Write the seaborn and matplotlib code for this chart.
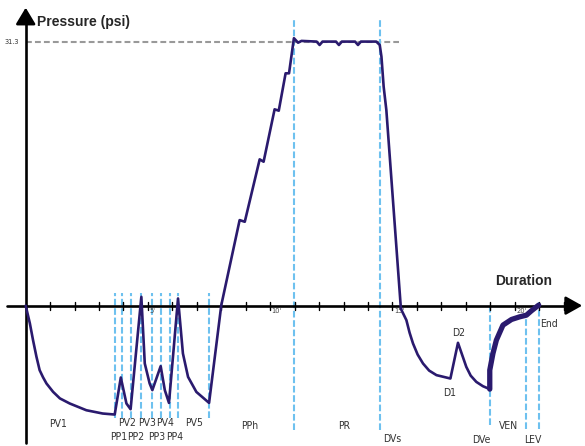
import matplotlib
matplotlib.use("Agg")
import matplotlib.pyplot as plt
from matplotlib import font_manager
import seaborn as sns
import pandas as pd

# pressure curve (minutes, psi)
time_min = [0.0, 0.17, 0.30, 0.44, 0.57, 0.71, 0.85, 1.12, 1.40, 1.80, 2.48, 3.15, 3.64,
            3.89, 4.12, 4.29, 4.73, 4.87, 5.07, 5.18, 5.52, 5.69, 5.86,
            6.23, 6.43, 6.64, 6.98, 7.50, 8.00, 8.75, 8.96, 9.57, 9.73,
            10.18, 10.35, 10.63, 10.77, 10.97, 11.14, 11.28,
            11.90, 12.02, 12.14, 12.69, 12.81, 12.93, 13.47, 13.59, 13.71,
            14.34, 14.48, 14.55, 14.64, 14.75, 15.34, 15.37, 15.57, 15.70, 15.84,
            16.03, 16.25, 16.50, 16.80, 17.37, 17.68, 18.02, 18.20, 18.43, 18.70, 18.98]
pressure_psi = [0.0, -2.10, -4.09, -6.06, -7.65, -8.50, -9.23, -10.22, -11.00, -11.60,
                -12.40, -12.79, -12.91,
                -8.52, -11.60, -12.28, 1.04, -6.86, -9.23, -10.02, -7.18, -10.02, -11.53,
                0.85, -5.67, -8.45, -10.23, -11.53, 0.06, 10.14, 9.94, 17.34, 17.06,
                23.27, 23.11, 27.54, 27.54, 31.70, 31.17, 31.38,
                31.30, 30.90, 31.30, 31.30, 30.90, 31.30, 31.30, 30.90, 31.30,
                31.30, 30.90, 29.51, 25.96, 23.19, -0.14, -0.53, -1.72, -3.20, -4.48,
                -5.80, -6.86, -7.70, -8.24, -8.64, -4.41, -7.26, -8.30, -9.04, -9.55, -9.90]

# venting part drawn with a heavier stroke
vent_time = [18.98, 18.98, 19.11, 19.25, 19.52, 19.87, 20.20, 20.48, 20.68, 20.98]
vent_psi = [-9.90, -7.65, -5.67, -4.09, -2.31, -1.64, -1.33, -1.13, -0.62, 0.06]

max_pressure = 31.3

# phase markers: position, top, bottom
marker_t = [3.64, 3.95, 4.29, 4.73, 5.18, 5.52, 5.89, 6.23, 7.50,
            10.97, 14.48, 18.98, 20.48, 20.98]
marker_top = [1.5, 1.5, 1.5, 1.5, 1.5, 1.5, 1.5, 1.5, 1.5,
              33.9, 33.9, 0.0, -1.2, 0.4]
marker_bottom = [-13.3, -13.3, -13.3, -13.3, -13.3, -13.3, -13.3, -13.3, -13.3,
                 -14.75, -14.75, -14.2, -14.6, -14.6]

phase_labels = ["PV1", "PV2", "PV3", "PV4", "PV5", "PP1", "PP2", "PP3", "PP4",
                "PPh", "PR", "DVs", "D2", "D1", "VEN", "DVe", "LEV", "End"]
label_t = [1.32, 4.13, 4.97, 5.70, 6.88, 3.79, 4.50, 5.36, 6.11,
           9.17, 13.02, 14.99, 17.69, 17.35, 19.74, 18.65, 20.76, 21.42]
label_p = [-14.0, -13.95, -13.95, -13.95, -13.95, -15.54, -15.54, -15.54, -15.54,
           -14.24, -14.24, -15.85, -3.21, -10.40, -14.24, -15.93, -15.93, -2.22]

tick_minutes = list(range(1, 23))
tick_names = {5: "5'", 10: "10'", 15: "15'", 20: "20'"}

curve_color = "#2a1a6e"
marker_color = "#6ec1ef"

sns.set_style("white")
plt.rcParams["font.family"] = ["Liberation Sans", "DejaVu Sans"]

# the labels use a narrow face; take one if the system has it
label_font = font_manager.FontProperties(family="Liberation Sans")
label_size = 6.6
for f in font_manager.fontManager.ttflist:
    if "Narrow" in f.name or "Condensed" in f.name or f.stretch in ("condensed", "semi-condensed"):
        if f.weight in ("normal", 400, "regular", "book") and f.style == "normal":
            label_font = font_manager.FontProperties(fname=f.fname)
            label_size = 7.5
            break

fig = plt.figure(figsize=(5.85, 4.46), dpi=100)
ax = fig.add_axes([0, 0, 1, 1])
ax.set_xlim(-1.051, 22.875)
ax.set_ylim(-16.64, 36.23)
ax.axis("off")

# reference line for the maximum pressure
ax.plot([0, 15.25], [max_pressure, max_pressure], color="#999999", lw=1.5,
        dashes=(2.8, 1.5), zorder=1)
ax.text(-0.56, max_pressure, "31.3", fontproperties=label_font, fontsize=5.3,
        ha="center", va="center", color="#333333")

# phase markers
for t, top, bot in zip(marker_t, marker_top, marker_bottom):
    ax.plot([t, t], [bot, top], color=marker_color, lw=1.5,
            dashes=(3.2, 1.3), zorder=2)

# axes with arrows
ax.plot([-0.75, 22.3], [0, 0], color="black", lw=1.9, zorder=3)
ax.plot([0, 0], [-16.3, 34.5], color="black", lw=1.9, zorder=3)
ax.annotate("", xy=(22.875, 0), xytext=(22.0, 0),
            arrowprops=dict(arrowstyle="-|>,head_length=0.5,head_width=0.28",
                            mutation_scale=20, lw=1.9, color="black"), zorder=3)
ax.annotate("", xy=(0, 35.65), xytext=(0, 33.5),
            arrowprops=dict(arrowstyle="-|>,head_length=0.5,head_width=0.3",
                            mutation_scale=20, lw=1.9, color="black"), zorder=3)
for m in tick_minutes:
    ax.plot([m, m], [-0.47, 0.47], color="black", lw=1.0, zorder=3)
    if m in tick_names:
        ax.text(m + 0.06, -0.3, tick_names[m], fontproperties=label_font,
                fontsize=5.3, ha="left", va="top", color="#444444")

# pressure curve
curve = pd.DataFrame({"t": time_min, "p": pressure_psi})
vent = pd.DataFrame({"t": vent_time, "p": vent_psi})
sns.lineplot(data=curve, x="t", y="p", sort=False, estimator=None,
             color=curve_color, lw=1.9, ax=ax, zorder=4)
sns.lineplot(data=vent, x="t", y="p", sort=False, estimator=None,
             color=curve_color, lw=3.8, ax=ax, zorder=4)

for name, t, p in zip(phase_labels, label_t, label_p):
    ax.text(t, p, name, fontproperties=label_font, fontsize=label_size,
            ha="center", va="center", color="#333333")

ax.text(0.47, 33.68, "Pressure (psi)", fontsize=10, fontweight="bold",
        ha="left", va="center")
ax.text(20.38, 2.95, "Duration", fontsize=10, fontweight="bold",
        ha="center", va="center")

fig.savefig("out.png", dpi=100)
